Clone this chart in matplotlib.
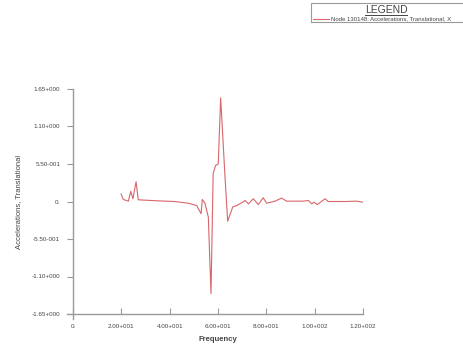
import matplotlib
matplotlib.use("Agg")
import matplotlib.pyplot as plt
from matplotlib.patches import Rectangle
from matplotlib.lines import Line2D

# frequency response
freq = [19.9, 20.8, 22.9, 23.9, 24.8, 26.1, 27.0, 35.0, 42.0, 47.7, 51.2, 53.0, 53.5,
        54.6, 56.0, 57.1, 58.0, 59.0, 60.1, 61.1, 62.9, 64.0, 66.1, 67.7, 70.2, 71.2,
        72.6, 74.6, 76.7, 78.7, 80.1, 83.6, 86.3, 88.4, 93.9, 95.3, 97.4, 98.8, 99.7,
        101.1, 104.3, 105.6, 113.2, 117.4, 120.0]
accel = [0.11, 0.03, 0.005, 0.15, 0.04, 0.29, 0.025, 0.01, 0.0, -0.025, -0.06, -0.18, 0.03,
         -0.025, -0.23, -1.35, 0.41, 0.53, 0.55, 1.52, 0.36, -0.29, -0.08, -0.06, -0.01, 0.015,
         -0.035, 0.04, -0.045, 0.055, -0.025, 0.005, 0.05, 0.005, 0.005, 0.005, 0.015, -0.035, -0.01,
         -0.045, 0.04, 0.0, 0.0, 0.005, -0.01]

xticks = [0, 20, 40, 60, 80, 100, 120]
xlabels = ["0.", "2.00+001", "4.00+001", "6.00+001", "8.00+001", "1.00+002", "1.20+002"]
yticks = [-1.65, -1.10, -0.55, 0, 0.55, 1.10, 1.65]
ylabels = ["-1.65+000", "-1.10+000", "-5.50-001", "0.", "5.50-001", "1.10+000", "1.65+000"]
legend_label = "Node 130148: Accelerations, Translational, X"

line_color = "#d8666b"
axis_color = "#9a9a9a"
text_color = "#444444"

plt.rcParams['font.family'] = ['Liberation Sans', 'DejaVu Sans']

fig = plt.figure(figsize=(4.64, 3.54), dpi=100)
ax = fig.add_axes([73 / 464, 40 / 354, 290 / 464, 225 / 354])
ax.plot(freq, accel, color=line_color, lw=0.8)

ax.set_xlim(0, 120)
ax.set_ylim(-1.65, 1.65)
ax.set_xticks(xticks)
ax.set_xticklabels(xlabels)
ax.set_yticks(yticks)
ax.set_yticklabels(ylabels)
ax.tick_params(axis='x', direction='in', length=4, width=0.8, color=axis_color,
               labelsize=4.5, labelcolor=text_color, pad=7)
ax.tick_params(axis='y', direction='out', length=4.3, width=0.8, color=axis_color,
               labelsize=4.5, labelcolor=text_color, pad=5)
for s in ['top', 'right']:
    ax.spines[s].set_visible(False)
for s in ['left', 'bottom']:
    ax.spines[s].set_color(axis_color)
    ax.spines[s].set_linewidth(1.0)
ax.spines['bottom'].set_bounds(-2.5, 120)
ax.spines['left'].set_bounds(-1.72, 1.65)

ax.set_xlabel("Frequency", fontsize=5.5, fontweight='bold', color=text_color, labelpad=5)
ax.set_ylabel("Accelerations, Translational", fontsize=5.5, color=text_color, labelpad=7)

# legend box in the top right corner
fig.patches.append(Rectangle((311 / 464, 1 - 22 / 354), 160 / 464, 19 / 354,
                             transform=fig.transFigure, fill=False,
                             edgecolor=axis_color, lw=0.8))
fig.text(386 / 464, 1 - 10 / 354, "LEGEND", fontsize=7.5, color=text_color,
         ha='center', va='center')
fig.lines.append(Line2D([365 / 464, 407 / 464], [1 - 14.5 / 354, 1 - 14.5 / 354],
                        transform=fig.transFigure, color=text_color, lw=0.7))
fig.lines.append(Line2D([313 / 464, 329 / 464], [1 - 18.5 / 354, 1 - 18.5 / 354],
                        transform=fig.transFigure, color=line_color, lw=0.8))
fig.text(331 / 464, 1 - 18.5 / 354, legend_label,
         fontsize=4.3, color=text_color, ha='left', va='center')

fig.savefig("out.png", dpi=100)
